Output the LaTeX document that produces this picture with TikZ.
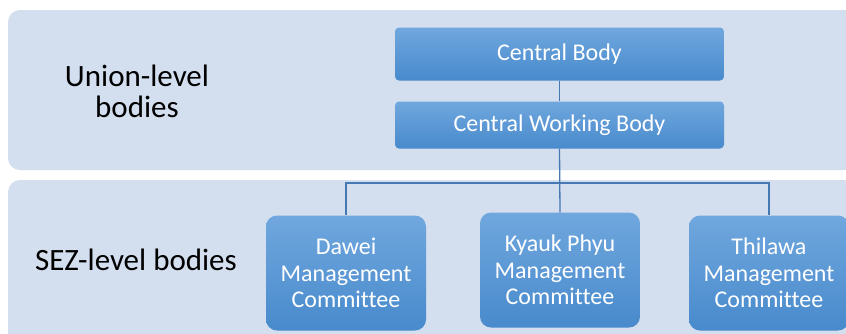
\documentclass[tikz,border=0pt]{standalone}
\usepackage{fontspec}
\setmainfont[Ligatures=NoCommon]{Carlito}
\usetikzlibrary{positioning}
\definecolor{bandfill}{RGB}{211,222,238}
\definecolor{boxtop}{RGB}{112,167,222}
\definecolor{boxbot}{RGB}{72,138,204}
\definecolor{linkcol}{RGB}{70,120,180}
\tikzset{
  band/.style={fill=bandfill, draw=none, rounded corners=12pt},
  bodybox/.style={rectangle, rounded corners=4pt, top color=boxtop, bottom color=boxbot, draw=none,
    text=white, font=\fontsize{24}{28}\selectfont, minimum width=329pt, inner sep=0pt},
  sezbox/.style={rectangle, rounded corners=11pt, top color=boxtop, bottom color=boxbot, draw=none,
    text=white, font=\fontsize{24}{26.5}\selectfont, minimum width=160pt, minimum height=115pt,
    align=center, inner sep=0pt},
  levellabel/.style={font=\fontsize{31}{31}\selectfont, text=black, align=center},
  link/.style={draw=linkcol, line width=1.3pt}
}
\begin{document}
\begin{tikzpicture}[x=1pt,y=-1pt]
\useasboundingbox (0,0) rectangle (846,333);
\clip (0,0) rectangle (846,333);
\fill[white] (0,0) rectangle (846,333);
\path[band] (8,10) rectangle (880,170);
\path[band] (8,180) rectangle (880,360);

\node[levellabel] (union) at (137,91) {Union-level\\bodies};
\node[levellabel] (sez) at (136,260) {SEZ-level bodies};

\node[bodybox, minimum height=53pt] (cb) at (559.5,54) {Central Body};
\node[bodybox, minimum height=47pt] (cwb) at (559.5,125) {Central Working Body};

\node[sezbox] (dw) at (346,273) {Dawei\\Management\\Committee};
\node[sezbox] (kp) at (560,270) {Kyauk Phyu\\Management\\Committee};
\node[sezbox] (th) at (769,273) {Thilawa\\Management\\Committee};

\coordinate (bus) at (559.5,183);
\draw[link] (cb) -- (cwb);
\draw[link] (cwb.south) -- (kp.north);
\draw[link] (dw.north) |- (bus) -| (th.north);
\end{tikzpicture}
\end{document}
